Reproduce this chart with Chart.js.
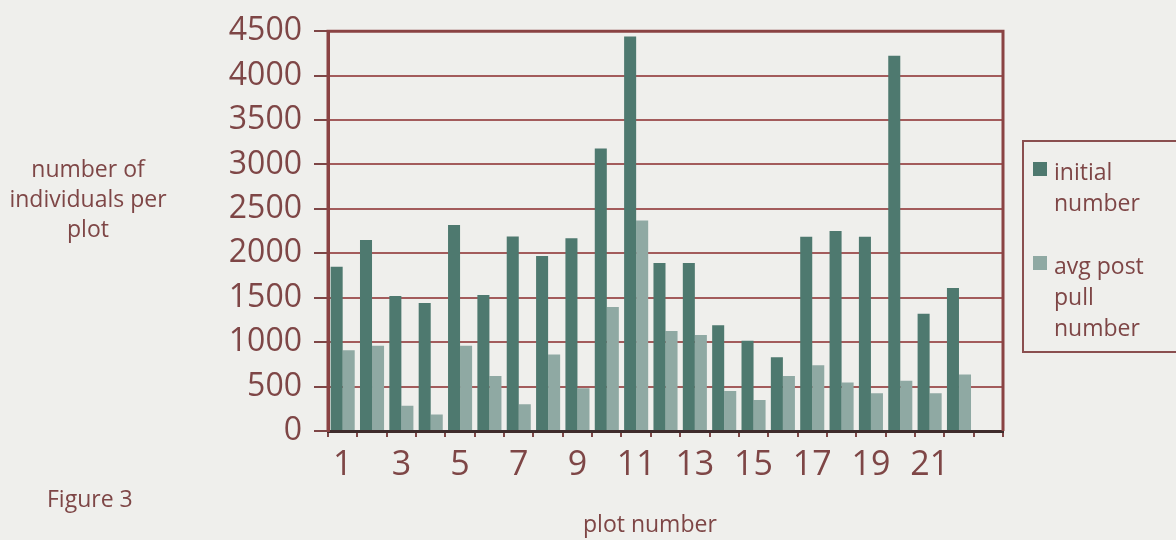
<!DOCTYPE html>
<html>
<head>
<meta charset="utf-8">
<title>Figure 3</title>
<script src="https://cdn.jsdelivr.net/npm/chart.js@4.4.1/dist/chart.umd.min.js"></script>
<style>
  html, body { margin: 0; padding: 0; background: #efefec; }
  #wrap { width: 1176px; height: 540px; position: relative; }
</style>
</head>
<body>
<div id="wrap"><canvas id="chart" width="1176" height="540"></canvas></div>
<script>
// Plot numbers (the trailing blank slot leaves the empty band at the right of the plot)
const plotNumbers = ['1','2','3','4','5','6','7','8','9','10','11','12','13','14','15','16','17','18','19','20','21','22',''];

// Initial number of individuals per plot
const initialNumber = [1850, 2150, 1520, 1440, 2320, 1530, 2190, 1970, 2170, 3180, 4440, 1890,
                       1890, 1190, 1015, 830, 2185, 2250, 2185, 4225, 1320, 1610, null];

// Average number per plot after pulling
const avgPostPull = [910, 960, 285, 185, 960, 620, 300, 860, 480, 1395, 2370, 1125,
                     1080, 450, 350, 620, 740, 545, 425, 565, 425, 635, null];

const yTickValues = [0, 500, 1000, 1500, 2000, 2500, 3000, 3500, 4000, 4500];

const seriesLines = [['initial', 'number'], ['avg post', 'pull', 'number']];
const yTitleLines = ['number of', 'individuals per', 'plot'];
const xTitle = 'plot number';
const figureLabel = 'Figure 3';

const MAROON = '#7e4646';
const GRID = '#a35c5c';
const DARK = '#4e796f';
const LIGHT = '#8fa9a3';
const FONT = '"Open Sans", "Noto Sans", sans-serif';

const pagePlugin = {
  id: 'page',
  beforeDraw(chart) {
    const ctx = chart.ctx;
    ctx.save();
    ctx.fillStyle = '#efefec';
    ctx.fillRect(0, 0, chart.width, chart.height);
    ctx.restore();
  },
  afterDraw(chart) {
    const ctx = chart.ctx;
    const a = chart.chartArea;
    ctx.save();

    // plot frame (top, right, left)
    ctx.strokeStyle = '#8a4343';
    ctx.lineWidth = 3;
    ctx.beginPath();
    ctx.moveTo(a.left, a.bottom);
    ctx.lineTo(a.left, a.top);
    ctx.lineTo(a.right, a.top);
    ctx.lineTo(a.right, a.bottom);
    ctx.stroke();

    ctx.fillStyle = MAROON;
    ctx.font = '23px ' + FONT;
    ctx.textBaseline = 'middle';

    // y axis title, horizontal and centred
    ctx.textAlign = 'center';
    yTitleLines.forEach((t, i) => ctx.fillText(t, 88, 170 + i * 30));

    // x axis title and figure label
    ctx.textAlign = 'left';
    ctx.fillText(xTitle, 583, 525);
    ctx.fillText(figureLabel, 47, 500);

    // legend
    const lx = a.right + 20;
    ctx.strokeStyle = '#8a4f4f';
    ctx.lineWidth = 2;
    ctx.strokeRect(lx, 141, 220, 211);
    const starts = [173, 267];
    chart.data.datasets.forEach((ds, i) => {
      ctx.fillStyle = ds.backgroundColor;
      ctx.fillRect(lx + 10, starts[i] - 11, 14, 14);
      ctx.fillStyle = MAROON;
      seriesLines[i].forEach((t, j) => ctx.fillText(t, lx + 31, starts[i] + j * 31));
    });
    ctx.restore();
  }
};

new Chart(document.getElementById('chart'), {
  type: 'bar',
  data: {
    labels: plotNumbers,
    datasets: [
      { label: seriesLines[0].join(' '), data: initialNumber, backgroundColor: DARK },
      { label: seriesLines[1].join(' '), data: avgPostPull, backgroundColor: LIGHT }
    ]
  },
  options: {
    responsive: false,
    animation: false,
    devicePixelRatio: 1,
    layout: { padding: { top: 23, right: 173, left: 0, bottom: 0 } },
    datasets: { bar: { categoryPercentage: 0.82, barPercentage: 1.0 } },
    plugins: { legend: { display: false }, tooltip: { enabled: false } },
    scales: {
      x: {
        offset: true,
        afterFit(scale) { scale.height = 109; },
        grid: { drawOnChartArea: false, drawTicks: true, tickLength: 6, color: MAROON, lineWidth: 2 },
        border: { display: true, color: '#3f2c2c', width: 3 },
        ticks: {
          autoSkip: false, maxRotation: 0, padding: 8,
          color: MAROON, font: { family: FONT, size: 34 },
          callback: (v, i) => (i % 2 === 0 ? plotNumbers[i] : '')
        }
      },
      y: {
        min: 0, max: 4500,
        afterFit(scale) { scale.width = 328; },
        afterBuildTicks(scale) { scale.ticks = yTickValues.map(v => ({ value: v })); },
        grid: { color: GRID, lineWidth: 2, drawTicks: true, tickLength: 14, tickColor: MAROON },
        border: { display: true, color: '#8a4343', width: 3 },
        ticks: {
          padding: 12, color: MAROON, font: { family: FONT, size: 32 },
          callback: v => String(v)
        }
      }
    }
  },
  plugins: [pagePlugin]
});
</script>
</body>
</html>
